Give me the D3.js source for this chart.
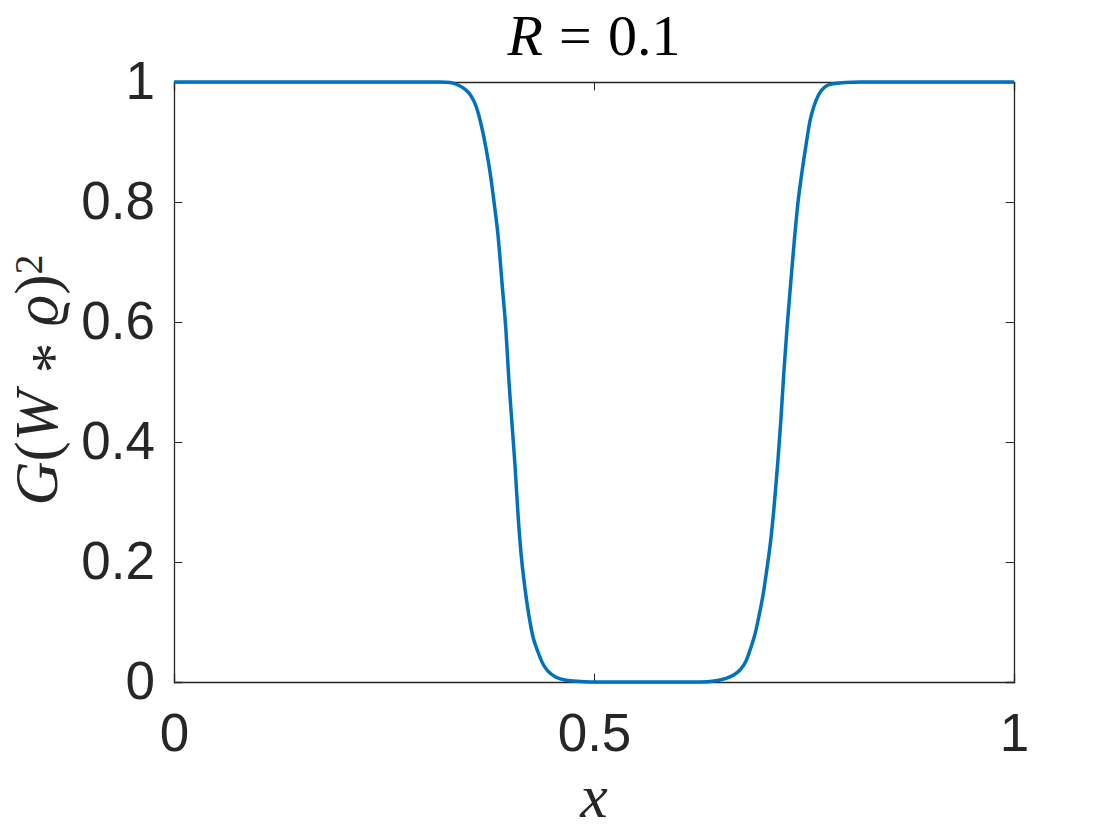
<!DOCTYPE html>
<html>
<head>
<meta charset="utf-8">
<script src="https://cdn.jsdelivr.net/npm/d3@7"></script>
<style>
  body { margin: 0; background: #fff; }
  svg { display: block; }
</style>
</head>
<body>
<div id="chart"></div>
<script>
// values: x position and G(W*rho)^2
var xVals = [0, 0.10, 0.20, 0.30, 0.3167, 0.3286, 0.3381, 0.3464, 0.3536, 0.3595, 0.3655, 0.3714, 0.3762,
             0.3810, 0.3857, 0.3905, 0.3952, 0.3988, 0.4024, 0.4060, 0.4095, 0.4131, 0.4179, 0.4226,
             0.4274, 0.4333, 0.4393, 0.4452, 0.4548, 0.4667, 0.4833, 0.5070, 0.55, 0.60, 0.6262,
             0.6452, 0.6571, 0.6667, 0.6750, 0.6810, 0.6869, 0.6917, 0.6964, 0.7012, 0.7060, 0.7107,
             0.7155, 0.7190, 0.7226, 0.7262, 0.7298, 0.7333, 0.7381, 0.7429, 0.7476, 0.7524, 0.7571,
             0.7619, 0.7679, 0.7750, 0.7845, 0.7988, 0.8167, 0.90, 1.0];
var gVals = [1, 1, 1, 1, 1.0, 0.999, 0.995, 0.988, 0.977, 0.960, 0.930, 0.890, 0.850,
             0.800, 0.745, 0.665, 0.585, 0.500, 0.430, 0.360, 0.280, 0.215, 0.155, 0.110,
             0.075, 0.050, 0.030, 0.018, 0.008, 0.003, 0.001, 0, 0, 0, 0,
             0.002, 0.006, 0.012, 0.022, 0.035, 0.058, 0.080, 0.110, 0.145, 0.190, 0.240,
             0.310, 0.370, 0.440, 0.520, 0.590, 0.650, 0.730, 0.800, 0.850, 0.895, 0.935,
             0.960, 0.980, 0.992, 0.997, 0.999, 1, 1, 1];

var xTicks = [0, 0.5, 1];
var yTicks = [0, 0.2, 0.4, 0.6, 0.8, 1];

var W = 1120, H = 840;
var margin = {top: 82, right: 106, bottom: 158, left: 174};
var w = W - margin.left - margin.right,
    h = H - margin.top - margin.bottom;

var axisColor = "#262626",
    tickLen = 8.4,
    tickFont = "'Liberation Sans', Arial, Helvetica, sans-serif",
    mathFont = "'Liberation Serif', 'Times New Roman', serif";

var svg = d3.select("#chart").append("svg")
    .attr("width", W)
    .attr("height", H);

var g = svg.append("g")
    .attr("transform", "translate(" + margin.left + "," + margin.top + ")");

var x = d3.scaleLinear().domain([0, 1]).range([0, w]);
var y = d3.scaleLinear().domain([0, 1]).range([h, 0]);

var data = xVals.map(function(d, i) { return {x: d, g: gVals[i]}; });

// bottom axis (labels), ticks inward
var xAxis = g.append("g")
    .attr("transform", "translate(0," + h + ")")
    .call(d3.axisBottom(x).tickValues(xTicks).tickSize(-tickLen).tickPadding(31)
        .tickFormat(function(d) { return d3.format("~g")(d); }));
xAxis.selectAll("text")
    .style("font-family", tickFont)
    .style("font-size", "53px")
    .attr("fill", axisColor);

// top axis mirror ticks
g.append("g")
    .call(d3.axisTop(x).tickValues(xTicks).tickSize(-tickLen).tickFormat(""));

// left axis
var yAxis = g.append("g")
    .call(d3.axisLeft(y).tickValues(yTicks).tickSize(-tickLen).tickPadding(19)
        .tickFormat(function(d) { return d3.format("~g")(d); }));
yAxis.selectAll("text")
    .style("font-family", tickFont)
    .style("font-size", "53px")
    .attr("fill", axisColor);

// right axis mirror ticks
g.append("g")
    .attr("transform", "translate(" + w + ",0)")
    .call(d3.axisRight(y).tickValues(yTicks).tickSize(-tickLen).tickFormat(""));

g.selectAll(".domain").attr("stroke", axisColor).attr("stroke-width", 1.3);
g.selectAll(".tick line").attr("stroke", axisColor).attr("stroke-width", 1);

// the curve
g.append("path")
    .datum(data)
    .attr("fill", "none")
    .attr("stroke", "#0072BD")
    .attr("stroke-width", 3.5)
    .attr("stroke-linejoin", "round")
    .attr("d", d3.line()
        .curve(d3.curveMonotoneX)
        .x(function(d) { return x(d.x); })
        .y(function(d) { return y(d.g); }));

// title
var title = svg.append("text")
    .attr("x", margin.left + w / 2)
    .attr("y", 55)
    .attr("text-anchor", "middle")
    .style("font-family", mathFont)
    .style("font-size", "58px")
    .attr("fill", "#000");
title.append("tspan").style("font-style", "italic").text("R");
title.append("tspan").attr("dx", "0.28em").text("=");
title.append("tspan").attr("dx", "0.28em").text("0.1");

// x label
svg.append("text")
    .attr("x", margin.left + w / 2)
    .attr("y", 817)
    .attr("text-anchor", "middle")
    .style("font-family", mathFont)
    .style("font-style", "italic")
    .style("font-size", "62px")
    .attr("fill", "#262626")
    .text("x");

// y label
var ylab = svg.append("text")
    .attr("transform", "translate(57," + (margin.top + h / 2 - 2) + ") rotate(-90)")
    .attr("text-anchor", "middle")
    .style("font-family", mathFont)
    .style("font-size", "61px")
    .attr("fill", "#262626");
ylab.append("tspan").style("font-style", "italic").text("G");
ylab.append("tspan").text("(");
ylab.append("tspan").style("font-style", "italic").text("W");
ylab.append("tspan").attr("dx", "0.28em").attr("dy", "0.26em").text("*");
ylab.append("tspan").attr("dx", "0.28em").attr("dy", "-0.26em").style("font-style", "italic").text("\u03F1");
ylab.append("tspan").text(")");
ylab.append("tspan").attr("dy", "-0.38em").style("font-size", "40px").text("2");
</script>
</body>
</html>
